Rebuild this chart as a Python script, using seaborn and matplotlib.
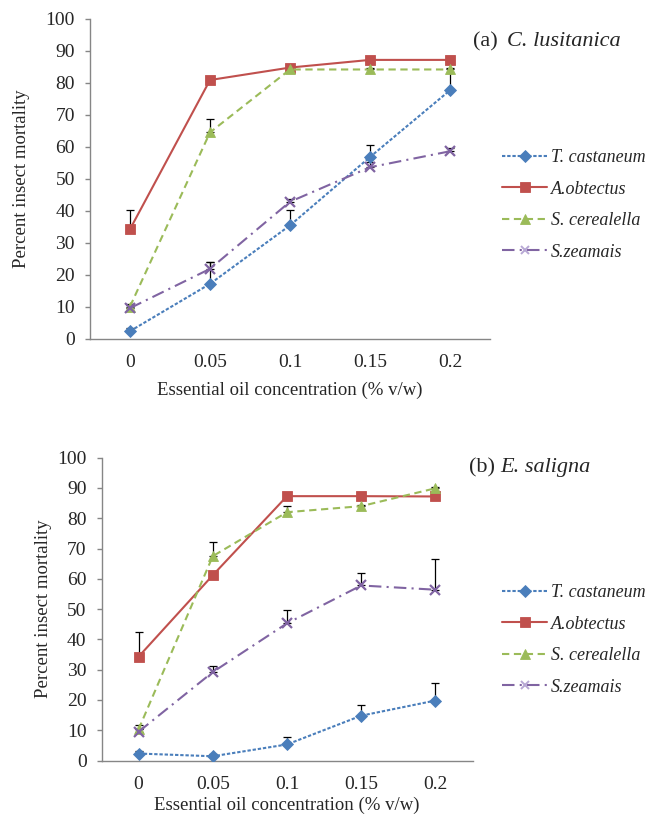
import matplotlib
matplotlib.use("Agg")
import matplotlib.pyplot as plt
from matplotlib.lines import Line2D
import numpy as np
import pandas as pd
import seaborn as sns

sns.set_style("white")
plt.rcParams["font.family"] = ["Liberation Serif", "DejaVu Serif"]

conc_labels = ["0", "0.05", "0.1", "0.15", "0.2"]
species = ["T. castaneum", "A.obtectus", "S. cerealella", "S.zeamais"]

# panel (a) C. lusitanica
a_tcast = [2.3, 17.1, 35.4, 56.8, 77.7]
a_aobt = [34.2, 80.9, 84.8, 87.2, 87.2]
a_scer = [10.0, 64.5, 84.2, 84.2, 84.2]
a_szea = [9.5, 21.8, 42.8, 53.6, 58.6]
a_tcast_err = [1.0, 7.0, 4.9, 3.7, 10.0]
a_aobt_err = [6.0, 0.5, 0.5, 0.5, 1.3]
a_scer_err = [0.8, 4.3, 0.5, 0.5, 0.5]
a_szea_err = [1.0, 2.3, 1.0, 1.5, 1.0]

# panel (b) E. saligna
b_tcast = [2.3, 1.4, 5.3, 14.8, 19.8]
b_aobt = [34.3, 61.2, 87.3, 87.3, 87.2]
b_scer = [10.3, 67.5, 82.0, 84.0, 89.9]
b_szea = [9.5, 29.2, 45.3, 57.8, 56.4]
b_tcast_err = [1.0, 0.8, 2.4, 3.6, 5.9]
b_aobt_err = [8.1, 0.5, 0.5, 0.5, 0.5]
b_scer_err = [1.5, 4.6, 2.0, 0.5, 0.5]
b_szea_err = [1.0, 1.9, 4.4, 4.2, 10.0]

colors = {"T. castaneum": "#4A7EBB", "A.obtectus": "#C0504D",
          "S. cerealella": "#9BBB59", "S.zeamais": "#8064A2"}
markers = {"T. castaneum": "D", "A.obtectus": "s", "S. cerealella": "^", "S.zeamais": "x"}
msizes = {"T. castaneum": 6, "A.obtectus": 7, "S. cerealella": 7.5, "S.zeamais": 6.5}
dashes = {"T. castaneum": (1.6, 0.9), "A.obtectus": "", "S. cerealella": (3.5, 2.2),
          "S.zeamais": (6, 2.5, 1, 2.5)}

W, H = 654, 816
fig = plt.figure(figsize=(W / 100, H / 100), dpi=100)


def px_axes(l, t, r, b):
    return fig.add_axes([l / W, 1 - b / H, (r - l) / W, (b - t) / H])


def draw_panel(ax, box, vals, errs, title_a, title_b, tpos, legend_y, ylab_x, xlab_pad):
    rows = []
    for sp, v in zip(species, vals):
        for i, y in enumerate(v):
            rows.append({"x": i, "y": y, "species": sp})
    df = pd.DataFrame(rows)
    # error bars (plus direction only)
    for sp, v, e in zip(species, vals, errs):
        ax.errorbar(np.arange(len(v)), v, yerr=[np.zeros(len(e)), e], fmt="none",
                    ecolor="black", elinewidth=0.9, capsize=2.8, capthick=0.9, zorder=2)
    for sp in species:
        sub = df[df.species == sp]
        sns.lineplot(data=sub, x="x", y="y", ax=ax, color=colors[sp], marker=markers[sp],
                     markersize=msizes[sp], linewidth=1.5,
                     markeredgecolor=colors[sp], markeredgewidth=1.6 if sp == "S.zeamais" else 0.6,
                     legend=False, zorder=3)
        if dashes[sp]:
            ax.lines[-1].set_dashes(dashes[sp])
        else:
            ax.lines[-1].set_linestyle("-")
    ax.set_xlim(-0.5, 4.5)
    ax.set_ylim(0, 100)
    ax.set_yticks(np.arange(0, 101, 10))
    ax.set_xticks(range(5))
    ax.set_xticklabels(conc_labels)
    ax.set_xticks(np.arange(-0.5, 4.6, 1), minor=True)
    ax.tick_params(axis="x", which="major", length=0, pad=11, labelsize=14)
    ax.tick_params(axis="x", which="minor", length=4.5, width=1, color="#868686", direction="out")
    ax.tick_params(axis="y", length=3.8, width=1, color="#868686", direction="out", pad=7, labelsize=14,
                   left=True)
    for s in ["top", "right"]:
        ax.spines[s].set_visible(False)
    for s in ["left", "bottom"]:
        ax.spines[s].set_color("#868686")
        ax.spines[s].set_linewidth(1)
    ax.set_xlabel("Essential oil concentration (% v/w)", fontsize=13.5, labelpad=xlab_pad)
    ax.set_ylabel("Percent insect mortality", fontsize=13.5, va="center")
    ax.yaxis.set_label_coords((ylab_x - box[0]) / box[1], 0.5)
    fig.text(tpos[0] / W, 1 - tpos[1] / H, title_a, fontsize=16, va="center", ha="left")
    fig.text(tpos[2] / W, 1 - tpos[1] / H, title_b, fontsize=16, va="center", ha="left",
             style="italic")
    handles = []
    for sp in species:
        h = Line2D([], [], color=colors[sp], marker=markers[sp], markersize=msizes[sp] * 0.95,
                   linewidth=1.5, markeredgewidth=1.4 if sp == "S.zeamais" else 0.6)
        if dashes[sp]:
            h.set_dashes(dashes[sp])
        if sp == "S.zeamais":
            h.set_markeredgecolor("#B7A7D4")
        handles.append(h)
    ax.legend(handles, species, loc="center left",
              bbox_to_anchor=(502 / W, 1 - legend_y / H), bbox_transform=fig.transFigure,
              frameon=False, borderaxespad=0, borderpad=0, handlelength=2.5,
              handletextpad=0.2, labelspacing=0.8, prop={"size": 13, "style": "italic"})


ax1 = px_axes(90, 19, 490, 338.5)
draw_panel(ax1, (90, 400), [a_tcast, a_aobt, a_scer, a_szea],
           [a_tcast_err, a_aobt_err, a_scer_err, a_szea_err],
           "(a)", "C. lusitanica", (473.5, 42, 507), 205, 22, 8)

ax2 = px_axes(101.5, 457.7, 472.5, 760.5)
draw_panel(ax2, (101.5, 371), [b_tcast, b_aobt, b_scer, b_szea],
           [b_tcast_err, b_aobt_err, b_scer_err, b_szea_err],
           "(b)", "E. saligna", (469, 468, 500), 640, 43.5, 3)

fig.savefig("out.png", dpi=100)
